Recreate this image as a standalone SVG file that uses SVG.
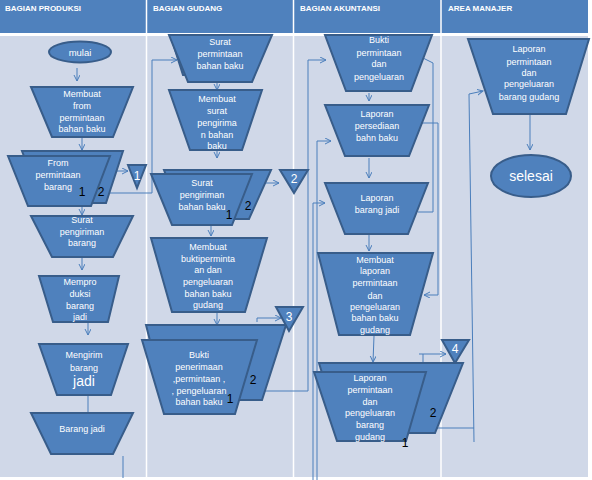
<svg xmlns="http://www.w3.org/2000/svg" width="592" height="480" viewBox="0 0 592 480">
<defs>
<marker id="ah" markerWidth="7" markerHeight="7" refX="6" refY="3" orient="auto" markerUnits="userSpaceOnUse"><path d="M0,0 L6,3 L0,6" fill="none" stroke="#4A7EBB" stroke-width="1"/></marker>
<style>
.s{fill:#4F81BD;stroke:#385D8A;stroke-width:2}
.t{font-family:"Liberation Sans",Arial,sans-serif;font-size:9px;fill:#FFFFFF;text-anchor:middle}
.h{font-family:"Liberation Sans",Arial,sans-serif;font-size:8px;font-weight:bold;fill:#FFFFFF}
.n{font-family:"Liberation Sans",Arial,sans-serif;font-size:12px;fill:#000000;text-anchor:middle}
.w{font-family:"Liberation Sans",Arial,sans-serif;font-size:12px;fill:#FFFFFF;text-anchor:middle}
.c{fill:none;stroke:#4A7EBB;stroke-width:1}
.a{marker-end:url(#ah)}
</style>
</defs>
<rect x="0" y="0" width="592" height="480" fill="#FFFFFF"/>
<rect x="0" y="0" width="588" height="33" fill="#4F81BD"/>
<rect x="0" y="36" width="588" height="441" fill="#D0D8E8"/>
<g stroke="#FFFFFF" stroke-width="1.5">
<line x1="146.5" y1="0" x2="146.5" y2="477"/>
<line x1="293.5" y1="0" x2="293.5" y2="477"/>
<line x1="441" y1="0" x2="441" y2="477"/>
</g>
<g id="headers">
<text class="h" x="5" y="11">BAGIAN PRODUKSI</text>
<text class="h" x="153" y="11">BAGIAN GUDANG</text>
<text class="h" x="300" y="11">BAGIAN AKUNTANSI</text>
<text class="h" x="448" y="11">AREA MANAJER</text>
</g>

<g id="connectors">
<path class="c a" d="M77,68 V81"/>
<path class="c a" d="M82,137 V150"/>
<path class="c a" d="M106,193 H152 V60 H177"/>
<path class="c a" d="M117,171 H128"/>
<path class="c a" d="M82,206 V215"/>
<path class="c a" d="M82,258 V270"/>
<path class="c a" d="M88,323 V335"/>
<path class="c" d="M88,395 V413"/>
<path class="c" d="M123,456 V478"/>
<path class="c a" d="M217,83 V90"/>
<path class="c a" d="M217,150 V158"/>
<path class="c a" d="M265,183 H279"/>
<path class="c a" d="M211,226 V236"/>
<path class="c a" d="M217,312 V325"/>
<path class="c a" d="M257,322 V318 H281"/>
<path class="c a" d="M262,391 H308 V60 H326"/>
<path class="c a" d="M317,480 V141 H331"/>
<path class="c a" d="M313,480 V203 H325"/>
<path class="c" d="M418,212 H433 V63 L423,58"/>
<path class="c a" d="M418,123 H438 V295 H424"/>
<path class="c a" d="M369,93 V101"/>
<path class="c a" d="M369,158 V178"/>
<path class="c a" d="M369,235 V251"/>
<path class="c a" d="M374,336 L373,362"/>
<path class="c a" d="M423,372 V354 H446"/>
<path class="c" d="M419,354 H423"/>
<path class="c" d="M437,428 H474"/>
<path class="c a" d="M474,442 L469,94 L483,91"/>
<path class="c a" d="M530,115 V150"/>
</g>

<g id="mulai">
<ellipse class="s" cx="80" cy="52" rx="31" ry="10.5"/>
<text class="t" x="80" y="55.5" style="font-size:9.5px">mulai</text>
</g>
<g id="membuat-from">
<polygon class="s" points="31,87 133,87 113,137 52,137"/>
<text class="t" x="82" y="97">Membuat</text>
<text class="t" x="82" y="109">from</text>
<text class="t" x="82" y="121">permintaan</text>
<text class="t" x="82" y="132">bahan baku</text>
</g>
<g id="from-permintaan">
<polygon class="s" points="22,151 123,151 106,203 42,203"/>
<polygon class="s" points="8,156 110,156 91,206 28,206"/>
<text class="t" x="58" y="166">From</text>
<text class="t" x="58" y="178">permintaan</text>
<text class="t" x="58" y="190">barang</text>
<text class="n" x="82" y="196">1</text>
<text class="n" x="101" y="196">2</text>
</g>
<g id="surat-pengiriman-barang">
<polygon class="s" points="31,216 133,216 113,257 52,257"/>
<text class="t" x="82" y="223">Surat</text>
<text class="t" x="82" y="235">pengiriman</text>
<text class="t" x="82" y="246">barang</text>
</g>
<g id="memproduksi">
<polygon class="s" points="39,276 119,276 108,322 53,322"/>
<text class="t" x="80" y="284.5">Mempro</text>
<text class="t" x="80" y="296.5">duksi</text>
<text class="t" x="80" y="308.5">barang</text>
<text class="t" x="80" y="319.5">jadi</text>
</g>
<g id="mengirim">
<polygon class="s" points="39,344 128,344 111,395 57,395"/>
<text class="t" x="84" y="357.5">Mengirim</text>
<text class="t" x="84" y="370.5">barang</text>
<text class="t" x="84" y="386" style="font-size:14px">jadi</text>
</g>
<g id="barang-jadi">
<polygon class="s" points="31,413 133,413 113,454 51,454"/>
<text class="t" x="82" y="431.5">Barang jadi</text>
</g>

<g id="surat-permintaan-bahan">
<polygon class="s" points="171,37 266,37 247,75 183,75"/>
<polygon class="s" points="169,35 272,35 252,82 188,82"/>
<text class="t" x="220" y="44.5">Surat</text>
<text class="t" x="220" y="56.5">permintaan</text>
<text class="t" x="220" y="68.5">bahan baku</text>
</g>
<g id="membuat-surat">
<polygon class="s" points="169,90 262,90 242,150 190,150"/>
<text class="t" x="217" y="101.5">Membuat</text>
<text class="t" x="217" y="113.5">surat</text>
<text class="t" x="217" y="125.5">pengirima</text>
<text class="t" x="217" y="137.5">n bahan</text>
<text class="t" x="217" y="148.5">baku</text>
</g>
<g id="surat-pengiriman-bahan">
<polygon class="s" points="164,170 271,170 249,219 183,219"/>
<polygon class="s" points="151,174 252,174 232,225 172,225"/>
<text class="t" x="202" y="185.5">Surat</text>
<text class="t" x="202" y="197.5">pengiriman</text>
<text class="t" x="202" y="209.5">bahan baku</text>
<text class="n" x="229" y="219">1</text>
<text class="n" x="248" y="210">2</text>
</g>
<g id="membuat-bukti">
<polygon class="s" points="151,238 267,238 245,312 172,312"/>
<text class="t" x="208" y="249.5">Membuat</text>
<text class="t" x="208" y="261.5">buktiperminta</text>
<text class="t" x="208" y="272.5">an dan</text>
<text class="t" x="208" y="284.5">pengeluaran</text>
<text class="t" x="208" y="296.5">bahan baku</text>
<text class="t" x="208" y="307.5">gudang</text>
</g>
<g id="bukti-penerimaan">
<polygon class="s" points="146,325 286,325 262,400 165,400"/>
<polygon class="s" points="142,340 257,340 235,414 164,414"/>
<text class="t" x="199" y="357.5">Bukti</text>
<text class="t" x="199" y="369.5">penerimaan</text>
<text class="t" x="199" y="381.5">,permintaan ,</text>
<text class="t" x="199" y="393.5">, pengeluaran</text>
<text class="t" x="199" y="404.5">bahan baku</text>
<text class="n" x="230" y="403">1</text>
<text class="n" x="253" y="384">2</text>
</g>

<g id="conn-1">
<polygon class="s" points="128,165 146,165 137,188"/>
<text class="w" x="137" y="180">1</text>
</g>
<g id="conn-2">
<polygon class="s" points="280,170 308,170 294,193"/>
<text class="w" x="294" y="183">2</text>
</g>
<g id="conn-3">
<polygon class="s" points="276,307 303,307 289,331"/>
<text class="w" x="289" y="321">3</text>
</g>
<g id="conn-4">
<polygon class="s" points="442,340 469,340 455,363"/>
<text class="w" x="455" y="353">4</text>
</g>

<g id="bukti-permintaan">
<polygon class="s" points="325,35 432,35 411,91 346,91"/>
<text class="t" x="379" y="43">Bukti</text>
<text class="t" x="379" y="55.5">permintaan</text>
<text class="t" x="379" y="66.5">dan</text>
<text class="t" x="379" y="79.5">pengeluaran</text>
</g>
<g id="laporan-persediaan">
<polygon class="s" points="325,105 429,105 409,156 345,156"/>
<text class="t" x="377" y="116.5">Laporan</text>
<text class="t" x="377" y="128.5">persediaan</text>
<text class="t" x="377" y="140.5">bahn baku</text>
</g>
<g id="laporan-barang-jadi">
<polygon class="s" points="325,183 428,183 408,234 345,234"/>
<text class="t" x="377" y="200.5">Laporan</text>
<text class="t" x="377" y="212.5">barang jadi</text>
</g>
<g id="membuat-laporan">
<polygon class="s" points="318,253 433,253 410,335 339,335"/>
<text class="t" x="375" y="262.5">Membuat</text>
<text class="t" x="375" y="273.5">laporan</text>
<text class="t" x="375" y="285.5">permintaan</text>
<text class="t" x="375" y="298.5">dan</text>
<text class="t" x="375" y="309.5">pengeluaran</text>
<text class="t" x="375" y="321">bahan baku</text>
<text class="t" x="375" y="333">gudang</text>
</g>
<g id="laporan-permintaan-akt">
<polygon class="s" points="319,363 463,363 435,433 340,433"/>
<polygon class="s" points="314,372 426,372 406,441 337,441"/>
<text class="t" x="370" y="380.5">Laporan</text>
<text class="t" x="370" y="392.5">permintaan</text>
<text class="t" x="370" y="404.5">dan</text>
<text class="t" x="370" y="415.5">pengeluaran</text>
<text class="t" x="370" y="427.5">barang</text>
<text class="t" x="370" y="439.5">gudang</text>
<text class="n" x="405" y="447">1</text>
<text class="n" x="433" y="417">2</text>
</g>

<g id="laporan-manajer">
<polygon class="s" points="468,39 589,39 566,114 493,114"/>
<text class="t" x="529" y="51.5">Laporan</text>
<text class="t" x="529" y="64.5">permintaan</text>
<text class="t" x="529" y="75.5">dan</text>
<text class="t" x="529" y="86.5">pengeluaran</text>
<text class="t" x="529" y="99.5">barang gudang</text>
</g>
<g id="selesai">
<ellipse class="s" cx="531" cy="176" rx="40" ry="21"/>
<text class="t" x="531" y="181" style="font-size:14px">selesai</text>
</g>
</svg>
